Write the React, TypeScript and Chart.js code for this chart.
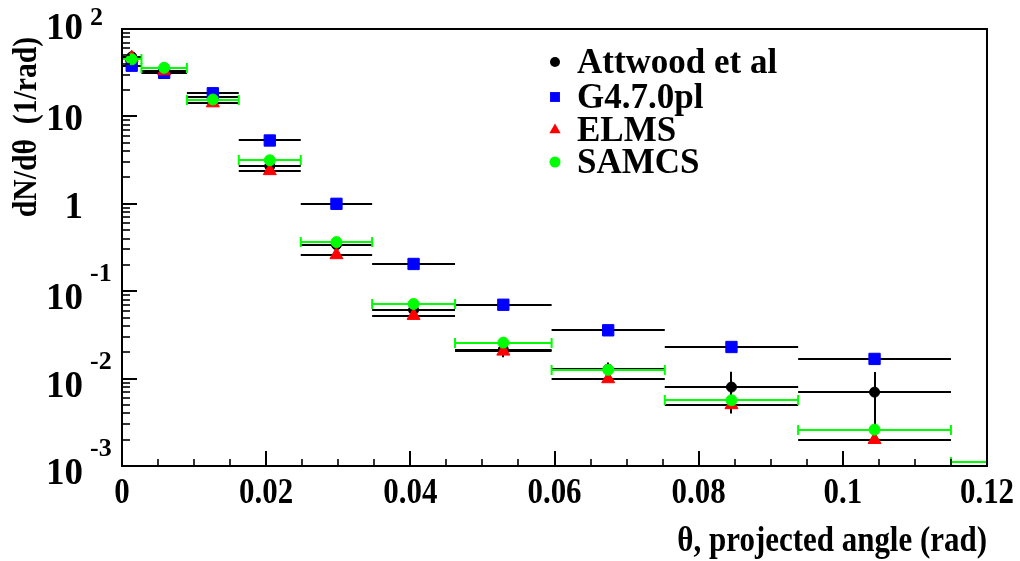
import { useEffect, useRef } from 'react';
import { Chart, registerables } from 'chart.js';

Chart.register(...registerables);

// Bin edges in projected angle (rad)
const binLow = [0, 0.0027, 0.009, 0.0162, 0.0248, 0.0347, 0.0462, 0.0596, 0.0753, 0.0938, 0.115];
const binHigh = [0.0027, 0.009, 0.0162, 0.0248, 0.0347, 0.0462, 0.0596, 0.0753, 0.0938, 0.115, 0.14];

// dN/dθ per bin (1/rad)
const attwood = [48, 33, 16.5, 2.7, 0.34, 0.061, 0.0215, 0.0128, 0.008, 0.007];
const attwoodErr = [2.0, 1.4, 0.8, 0.15, 0.025, 0.005, 0.004, 0.0025, 0.004, 0.0049];
const g4 = [38, 31.5, 18.4, 5.3, 1.0, 0.205, 0.07, 0.0357, 0.023, 0.0168];
const elms = [47, 33, 14.2, 2.38, 0.26, 0.0525, 0.0205, 0.0099, 0.005, 0.002];
const samcs = [45, 36, 15.6, 3.15, 0.365, 0.0715, 0.0258, 0.0126, 0.00565, 0.00261, 0.0011];

// Axis ticks
const xTickValues = [0, 0.02, 0.04, 0.06, 0.08, 0.1, 0.12];
const xTickLabels = ['0', '0.02', '0.04', '0.06', '0.08', '0.1', '0.12'];
const yDecades = [100, 10, 1, 0.1, 0.01, 0.001];
const yDecadeBase = ['10', '10', '1', '10', '10', '10'];
const yDecadeExp = ['2', '', '', '-1', '-2', '-3'];

const FONT = '"Liberation Serif", "Times New Roman", serif';

type Marker = 'circle' | 'rect' | 'triangle';
type Series = {
  label: string;
  values: number[];
  errors?: number[];
  color: string;
  barColor: string;
  marker: Marker;
  radius: number;
  legendRadius: number;
  caps: boolean;
};

const series: Series[] = [
  { label: 'Attwood et al', values: attwood, errors: attwoodErr, color: '#000000', barColor: '#000000', marker: 'circle', radius: 5, legendRadius: 5, caps: false },
  { label: 'G4.7.0pl', values: g4, color: '#0000ff', barColor: '#000000', marker: 'rect', radius: 8, legendRadius: 7, caps: false },
  { label: 'ELMS', values: elms, color: '#ff0000', barColor: '#000000', marker: 'triangle', radius: 7.5, legendRadius: 6.5, caps: false },
  { label: 'SAMCS', values: samcs, color: '#00ff00', barColor: '#00ff00', marker: 'circle', radius: 5.5, legendRadius: 5.5, caps: true },
];

const binCenter = (i: number) => (binLow[i] + binHigh[i]) / 2;

// Horizontal bin-width bars (and vertical errors) drawn just before each dataset's markers
const binBarsPlugin = {
  id: 'binBars',
  beforeDatasetDraw(chart: any, args: any) {
    const s = series[args.index];
    if (!s) return;
    const { ctx, chartArea: a } = chart;
    const xs = chart.scales.x;
    const ys = chart.scales.y;
    ctx.save();
    ctx.beginPath();
    ctx.rect(a.left, a.top, a.right - a.left, a.bottom - a.top);
    ctx.clip();
    ctx.strokeStyle = s.barColor;
    ctx.lineWidth = 2;
    s.values.forEach((v, i) => {
      const py = Math.round(ys.getPixelForValue(v));
      const x0 = xs.getPixelForValue(binLow[i]);
      const x1 = xs.getPixelForValue(binHigh[i]);
      ctx.beginPath();
      ctx.moveTo(x0, py);
      ctx.lineTo(x1, py);
      if (s.caps) {
        ctx.moveTo(x0, py - 5);
        ctx.lineTo(x0, py + 5);
        ctx.moveTo(x1, py - 5);
        ctx.lineTo(x1, py + 5);
      }
      if (s.errors) {
        const e = s.errors[i];
        const px = Math.round(xs.getPixelForValue(binCenter(i)));
        ctx.moveTo(px, ys.getPixelForValue(v + e));
        ctx.lineTo(px, ys.getPixelForValue(Math.max(v - e, 1e-6)));
      }
      ctx.stroke();
    });
    ctx.restore();
  },
};

function drawMarker(ctx: CanvasRenderingContext2D, m: Marker, x: number, y: number, r: number, color: string) {
  ctx.fillStyle = color;
  ctx.beginPath();
  if (m === 'circle') {
    ctx.arc(x, y, r, 0, Math.PI * 2);
  } else if (m === 'rect') {
    const h = r * Math.SQRT1_2;
    ctx.rect(x - h, y - h, 2 * h, 2 * h);
  } else {
    ctx.moveTo(x, y - r);
    ctx.lineTo(x + r * Math.sin((2 * Math.PI) / 3), y + r * 0.5);
    ctx.lineTo(x - r * Math.sin((2 * Math.PI) / 3), y + r * 0.5);
    ctx.closePath();
  }
  ctx.fill();
}

// Frame, inward ticks, labels, titles and legend
const framePlugin = {
  id: 'frameAxes',
  afterDraw(chart: any) {
    const { ctx, chartArea: a } = chart;
    const xs = chart.scales.x;
    const ys = chart.scales.y;
    ctx.save();
    ctx.strokeStyle = '#000';
    ctx.fillStyle = '#000';

    // frame
    ctx.lineWidth = 2;
    ctx.strokeRect(a.left, a.top, a.right - a.left, a.bottom - a.top);

    // y ticks (log)
    for (let d = -3; d <= 2; d++) {
      const base = Math.pow(10, d);
      const yMaj = Math.round(ys.getPixelForValue(base));
      ctx.lineWidth = 2;
      ctx.beginPath();
      ctx.moveTo(a.left, yMaj);
      ctx.lineTo(a.left + 15, yMaj);
      ctx.stroke();
      if (d < 2) {
        ctx.lineWidth = 1.6;
        for (let m = 2; m <= 9; m++) {
          const yy = Math.round(ys.getPixelForValue(m * base));
          ctx.beginPath();
          ctx.moveTo(a.left, yy);
          ctx.lineTo(a.left + 8, yy);
          ctx.stroke();
        }
      }
    }

    // x ticks
    for (let k = 0; k <= 24; k++) {
      const xx = Math.round(xs.getPixelForValue(k * 0.005));
      const major = k % 4 === 0;
      ctx.lineWidth = major ? 2 : 1.6;
      ctx.beginPath();
      ctx.moveTo(xx, a.bottom);
      ctx.lineTo(xx, a.bottom - (major ? 15 : 7));
      ctx.stroke();
    }

    // x labels
    ctx.font = `bold 36px ${FONT}`;
    ctx.textAlign = 'center';
    ctx.textBaseline = 'alphabetic';
    xTickValues.forEach((v, i) => {
      const px = xs.getPixelForValue(v);
      ctx.save();
      ctx.translate(px, 503);
      ctx.scale(0.86, 1);
      ctx.fillText(xTickLabels[i], 0, 0);
      ctx.restore();
    });

    // y labels with superscript exponents
    yDecades.forEach((v, i) => {
      const py = ys.getPixelForValue(v);
      const exp = yDecadeExp[i];
      const neg = exp.startsWith('-');
      const baseY = i === 0 ? py + 10 : neg ? py + 18 : py + 14;
      ctx.font = `bold 37px ${FONT}`;
      ctx.textAlign = 'right';
      ctx.fillText(yDecadeBase[i], 83, baseY);
      if (exp) {
        ctx.font = `bold 26px ${FONT}`;
        ctx.textAlign = 'left';
        ctx.fillText(exp, 90, i === 0 ? py - 4 : py - 10);
      }
    });

    // axis titles
    ctx.font = `bold 36px ${FONT}`;
    ctx.textAlign = 'right';
    ctx.save();
    ctx.translate(a.right, 551);
    ctx.scale(0.86, 1);
    ctx.fillText('θ, projected angle (rad)', 0, 0);
    ctx.restore();

    ctx.save();
    ctx.translate(27, 127);
    ctx.rotate(-Math.PI / 2);
    ctx.scale(0.9, 1);
    ctx.font = `bold 33px ${FONT}`;
    ctx.textAlign = 'center';
    ctx.textBaseline = 'middle';
    ctx.fillText('dN/dθ  (1/rad)', 0, 0);
    ctx.restore();

    // legend
    const rows = [62, 97, 130, 162];
    ctx.font = `bold 35px ${FONT}`;
    ctx.textAlign = 'left';
    ctx.textBaseline = 'alphabetic';
    series.forEach((s, i) => {
      const ry = rows[i];
      drawMarker(ctx, s.marker, 555, ry, s.legendRadius, s.color);
      ctx.fillStyle = '#000';
      ctx.fillText(s.label, 577, ry + 11);
    });

    ctx.restore();
  },
};

export default function App() {
  const canvasRef = useRef<HTMLCanvasElement | null>(null);

  useEffect(() => {
    const canvas = canvasRef.current;
    if (!canvas) return;
    // order: lower numbers are painted last (on top)
    const orders = [4, 3, 2, 1];
    const chart = new Chart(canvas, {
      type: 'scatter',
      data: {
        datasets: series.map((s, k) => ({
          label: s.label,
          data: s.values.map((v, i) => ({ x: binCenter(i), y: v })),
          pointStyle: s.marker,
          pointRadius: s.radius,
          pointHoverRadius: s.radius,
          backgroundColor: s.color,
          borderColor: s.color,
          borderWidth: 1,
          showLine: false,
          order: orders[k],
        })),
      },
      options: {
        animation: false,
        responsive: false,
        devicePixelRatio: 1,
        events: [],
        layout: { padding: { left: 122, right: 33, top: 29, bottom: 95 } },
        plugins: {
          legend: { display: false },
          tooltip: { enabled: false },
        },
        scales: {
          x: { type: 'linear', min: 0, max: 0.12, display: false },
          y: { type: 'logarithmic', min: 0.001, max: 100, display: false },
        },
      },
      plugins: [binBarsPlugin, framePlugin],
    });
    return () => chart.destroy();
  }, []);

  return (
    <div style={{ position: 'absolute', left: 0, top: 0, width: 1020, height: 561, background: '#fff' }}>
      <canvas ref={canvasRef} width={1020} height={561} />
    </div>
  );
}
